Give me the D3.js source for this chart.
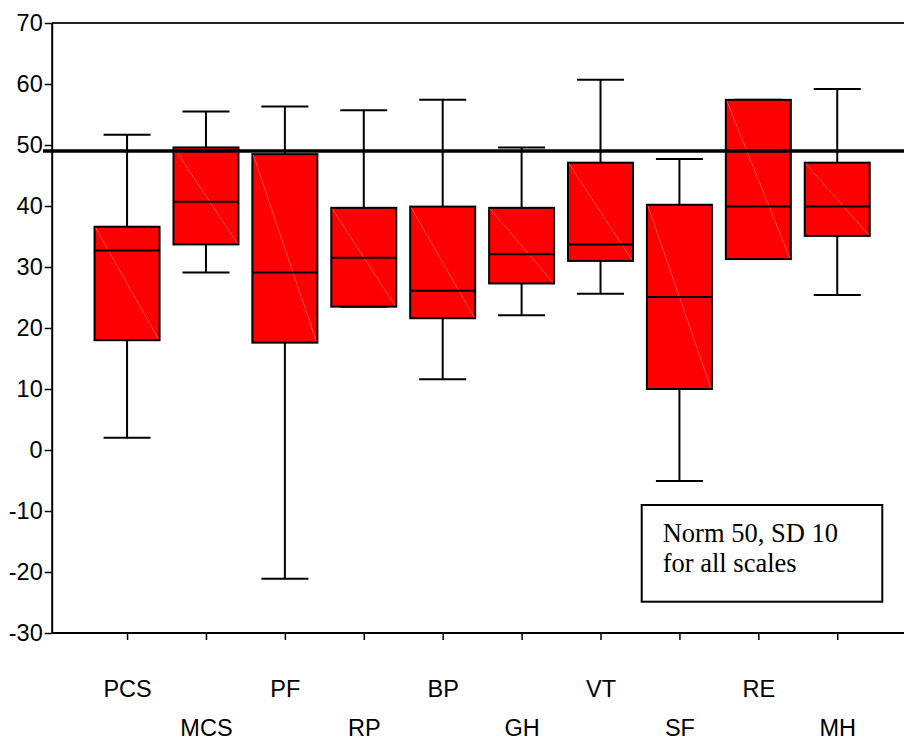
<!DOCTYPE html>
<html>
<head>
<meta charset="utf-8">
<script src="https://cdn.jsdelivr.net/npm/d3@7"></script>
<style>
  body { margin: 0; background: #fff; }
  svg { display: block; font-family: "Liberation Sans", Arial, sans-serif; }
</style>
</head>
<body>
<svg width="904" height="740"></svg>
<script>
// scales (SF-36 style)
const scales = ["PCS", "MCS", "PF", "RP", "BP", "GH", "VT", "SF", "RE", "MH"];
const hiWhisker = [51.7, 55.5, 56.3, 55.7, 57.4, 49.6, 60.7, 47.7, 57.4, 59.2];
const q3 = [36.6, 49.6, 48.5, 39.7, 39.9, 39.7, 47.1, 40.2, 57.4, 47.1];
const median = [32.7, 40.7, 29.1, 31.5, 26.1, 32.1, 33.7, 25.1, 39.9, 39.9];
const q1 = [18.0, 33.7, 17.6, 23.5, 21.6, 27.3, 31.0, 10.0, 31.3, 35.1];
const loWhisker = [2.0, 29.1, -21.1, 23.5, 11.6, 22.1, 25.6, -5.1, 31.3, 25.4];
const yTicks = [-30, -20, -10, 0, 10, 20, 30, 40, 50, 60, 70];
const normLine = 49.0;
const noteLines = ["Norm 50, SD 10", "for all scales"];

const svg = d3.select("svg");

const boxW = 65;
const capW = 47;

const y = d3.scaleLinear().domain([-30, 70]).range([633, 23]);
const x = d3.scalePoint().domain(scales).range([51.7, 912.6]).padding(0.955);

const data = scales.map((s, i) => ({
  s: s, hi: hiWhisker[i], q3: q3[i], med: median[i], q1: q1[i], lo: loWhisker[i]
}));

// top frame line
svg.append("line")
  .attr("x1", 51.7).attr("x2", 904)
  .attr("y1", y(70)).attr("y2", y(70))
  .attr("stroke", "#222").attr("stroke-width", 2);

// whiskers
const g = svg.append("g");
g.selectAll("line.whi")
  .data(data)
  .join("line")
  .attr("class", "whi")
  .attr("x1", d => x(d.s)).attr("x2", d => x(d.s))
  .attr("y1", d => y(d.hi)).attr("y2", d => y(d.lo))
  .attr("stroke", "#000").attr("stroke-width", 2);

g.selectAll("line.caphi")
  .data(data)
  .join("line")
  .attr("class", "caphi")
  .attr("x1", d => x(d.s) - capW / 2).attr("x2", d => x(d.s) + capW / 2)
  .attr("y1", d => y(d.hi)).attr("y2", d => y(d.hi))
  .attr("stroke", "#000").attr("stroke-width", 2);

g.selectAll("line.caplo")
  .data(data)
  .join("line")
  .attr("class", "caplo")
  .attr("x1", d => x(d.s) - capW / 2).attr("x2", d => x(d.s) + capW / 2)
  .attr("y1", d => y(d.lo)).attr("y2", d => y(d.lo))
  .attr("stroke", "#000").attr("stroke-width", 2);

// boxes
g.selectAll("rect.box")
  .data(data)
  .join("rect")
  .attr("class", "box")
  .attr("x", d => x(d.s) - boxW / 2)
  .attr("y", d => y(d.q3))
  .attr("width", boxW)
  .attr("height", d => y(d.q1) - y(d.q3))
  .attr("fill", "#ff0000")
  .attr("stroke", "#000").attr("stroke-width", 2);

// faint diagonal seam inside each box
g.selectAll("line.seam")
  .data(data)
  .join("line")
  .attr("class", "seam")
  .attr("x1", d => x(d.s) - boxW / 2 + 1).attr("y1", d => y(d.q3) + 1)
  .attr("x2", d => x(d.s) + boxW / 2 - 1).attr("y2", d => y(d.q1) - 1)
  .attr("stroke", "#ff7070").attr("stroke-width", 0.7);

// medians
g.selectAll("line.med")
  .data(data)
  .join("line")
  .attr("class", "med")
  .attr("x1", d => x(d.s) - boxW / 2).attr("x2", d => x(d.s) + boxW / 2)
  .attr("y1", d => y(d.med)).attr("y2", d => y(d.med))
  .attr("stroke", "#000").attr("stroke-width", 2);

// norm reference line
svg.append("line")
  .attr("x1", 43).attr("x2", 904)
  .attr("y1", y(normLine)).attr("y2", y(normLine))
  .attr("stroke", "#000").attr("stroke-width", 3.5);

// y axis (plain hyphen minus, like the original)
const yAxis = svg.append("g")
  .attr("transform", "translate(51.7,0)")
  .call(d3.axisLeft(y).tickValues(yTicks).tickFormat(d => String(d))
    .tickSize(7).tickSizeOuter(0).tickPadding(2));
yAxis.select(".domain").attr("stroke", "#000").attr("stroke-width", 2);
yAxis.selectAll(".tick line").attr("stroke", "#000").attr("stroke-width", 1.5);
yAxis.selectAll("text")
  .attr("font-size", 23.5)
  .attr("font-family", "Liberation Sans, Arial, sans-serif")
  .attr("fill", "#000");

// x axis, labels staggered on two rows
const xAxis = svg.append("g")
  .attr("transform", "translate(0,633)")
  .call(d3.axisBottom(x).tickSize(7).tickSizeOuter(0).tickPadding(0));
xAxis.select(".domain").attr("d", "M51.7,0H904").attr("stroke", "#000").attr("stroke-width", 2);
xAxis.selectAll(".tick line").attr("stroke", "#000").attr("stroke-width", 1.5);
xAxis.selectAll("text")
  .attr("font-size", 23.5)
  .attr("font-family", "Liberation Sans, Arial, sans-serif")
  .attr("fill", "#000")
  .attr("dy", null)
  .attr("y", (d, i) => (i % 2 === 0 ? 64 : 103));

// note box
const note = svg.append("g").attr("transform", "translate(641.7,505)");
note.append("rect")
  .attr("width", 240.6).attr("height", 96.7)
  .attr("fill", "#fff").attr("stroke", "#000").attr("stroke-width", 2);
note.selectAll("text")
  .data(noteLines)
  .join("text")
  .attr("x", 21)
  .attr("y", (d, i) => 36.7 + i * 30)
  .attr("font-family", "Liberation Serif, Times New Roman, serif")
  .attr("font-size", 26.5)
  .attr("fill", "#000")
  .text(d => d);
</script>
</body>
</html>
